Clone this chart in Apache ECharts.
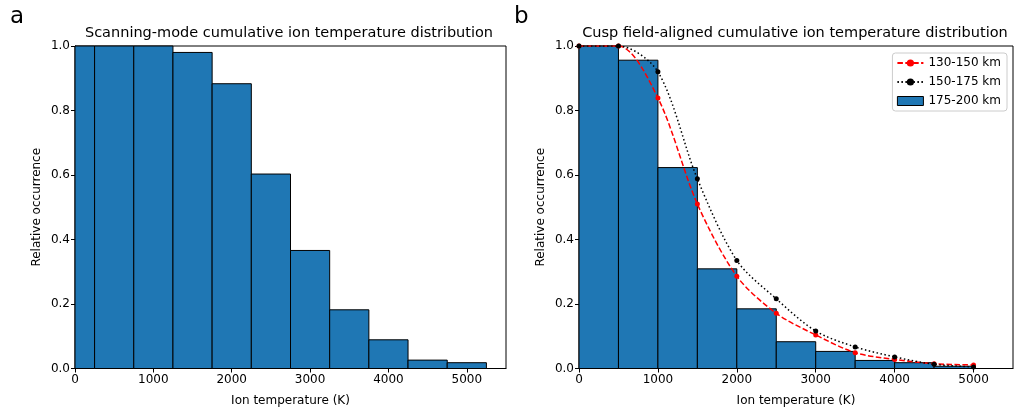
<!DOCTYPE html>
<html>
<head>
<meta charset="utf-8">
<script src="https://cdn.jsdelivr.net/npm/echarts@6/dist/echarts.min.js"></script>
<style>
html,body{margin:0;padding:0;background:#fff;}
#c{width:1017px;height:412px;}
</style>
</head>
<body>
<div id="c"></div>
<script>
// ---- data ----
const xTicks = [0, 1000, 2000, 3000, 4000, 5000];
const yTicks = [0, 0.2, 0.4, 0.6, 0.8, 1.0];
const binWidth = 500;

// panel a: scanning-mode histogram (bin centres, values)
const scanCenters = [0, 500, 1000, 1500, 2000, 2500, 3000, 3500, 4000, 4500, 5000];
const scanValues  = [1.0, 1.0, 1.0, 0.980, 0.883, 0.603, 0.366, 0.182, 0.089, 0.026, 0.018];

// panel b: 175-200 km histogram
const cuspCenters = [250, 750, 1250, 1750, 2250, 2750, 3250, 3750, 4250, 4750];
const cuspValues  = [1.0, 0.956, 0.623, 0.309, 0.185, 0.083, 0.053, 0.025, 0.018, 0.007];

// panel b: lines
const lineTemps = [0, 500, 1000, 1500, 2000, 2500, 3000, 3500, 4000, 4500, 5000];
const line130 = [1.0, 1.0, 0.839, 0.510, 0.286, 0.171, 0.104, 0.049, 0.028, 0.015, 0.011];
const line150 = [1.0, 1.0, 0.920, 0.588, 0.335, 0.216, 0.116, 0.067, 0.036, 0.013, 0.005];

const seriesNames = ['130-150 km', '150-175 km', '175-200 km'];
const titles = ['Scanning-mode cumulative ion temperature distribution',
                'Cusp field-aligned cumulative ion temperature distribution'];
const panelLabels = ['a', 'b'];
const xName = 'Ion temperature (K)';
const yName = 'Relative occurrence';

// ---- chart ----
const FONT = 'DejaVu Sans';
const BLUE = '#1f77b4';
const AX = 12;
const chart = echarts.init(document.getElementById('c'), null, {renderer: 'canvas'});

function renderBar(params, api) {
  const c = api.value(0), v = api.value(1);
  const p0 = api.coord([c - binWidth / 2, v]);
  const p1 = api.coord([c + binWidth / 2, 0]);
  const cs = params.coordSys;
  const r = echarts.graphic.clipRectByRect(
    {x: p0[0], y: p0[1], width: p1[0] - p0[0], height: p1[1] - p0[1]},
    {x: cs.x, y: cs.y, width: cs.width, height: cs.height});
  if (!r) return null;
  return {type: 'rect', shape: r, style: {fill: BLUE, stroke: '#000', lineWidth: 1}};
}

const grids = [
  {left: 75, top: 46, width: 431, height: 322.5},
  {left: 579, top: 46, width: 434, height: 322.5}
];

function xAxis(i) {
  return {
    type: 'value', gridIndex: i, min: 0, max: 5500,
    name: xName, nameLocation: 'middle', nameGap: 26,
    nameTextStyle: {fontFamily: FONT, fontSize: AX, color: '#000'},
    axisLine: {show: true, lineStyle: {color: '#000', width: 1}},
    axisTick: {show: true, length: 4, lineStyle: {color: '#000'}, customValues: xTicks},
    axisLabel: {fontFamily: FONT, fontSize: AX, color: '#000', margin: 5, customValues: xTicks,
                formatter: v => String(v)},
    splitLine: {show: false}
  };
}
function yAxis(i) {
  return {
    type: 'value', gridIndex: i, min: 0, max: 1,
    name: yName, nameLocation: 'middle', nameGap: 32, nameRotate: 90,
    nameTextStyle: {fontFamily: FONT, fontSize: AX, color: '#000'},
    axisLine: {show: true, lineStyle: {color: '#000', width: 1}},
    axisTick: {show: true, length: 4, lineStyle: {color: '#000'}, customValues: yTicks},
    axisLabel: {fontFamily: FONT, fontSize: AX, color: '#000', margin: 5, customValues: yTicks,
                formatter: v => v.toFixed(1)},
    splitLine: {show: false}
  };
}

const option = {
  backgroundColor: '#fff',
  animation: false,
  title: [
    {text: titles[0], left: 284, top: 21, textAlign: 'center',
     textStyle: {fontFamily: FONT, fontSize: 14.5, fontWeight: 'normal', color: '#000'}},
    {text: titles[1], left: 790, top: 21, textAlign: 'center',
     textStyle: {fontFamily: FONT, fontSize: 14.5, fontWeight: 'normal', color: '#000'}},
    {text: panelLabels[0], left: 5, top: 1,
     textStyle: {fontFamily: FONT, fontSize: 23, fontWeight: 'normal', color: '#000'}},
    {text: panelLabels[1], left: 509, top: 1,
     textStyle: {fontFamily: FONT, fontSize: 23, fontWeight: 'normal', color: '#000'}}
  ],
  grid: grids.map(g => Object.assign({show: true, borderColor: '#000', borderWidth: 1,
                                      backgroundColor: 'transparent'}, g)),
  xAxis: [xAxis(0), xAxis(1)],
  yAxis: [yAxis(0), yAxis(1)],
  legend: {
    orient: 'vertical', right: 10, top: 53,
    itemWidth: 26, itemHeight: 9, itemGap: 7,
    padding: [4, 6, 4, 4],
    borderColor: '#ccc', borderWidth: 1, borderRadius: 3, backgroundColor: 'rgba(255,255,255,0.8)',
    textStyle: {fontFamily: FONT, fontSize: AX, color: '#000'},
    data: [
      {name: seriesNames[0]},
      {name: seriesNames[1]},
      {name: seriesNames[2], icon: 'rect', itemStyle: {color: BLUE, borderColor: '#000', borderWidth: 1}}
    ]
  },
  series: [
    {
      type: 'custom', name: 'scan', xAxisIndex: 0, yAxisIndex: 0,
      renderItem: renderBar, encode: {x: 0, y: 1},
      data: scanCenters.map((c, i) => [c, scanValues[i]])
    },
    {
      type: 'custom', name: seriesNames[2], xAxisIndex: 1, yAxisIndex: 1,
      renderItem: renderBar, encode: {x: 0, y: 1},
      itemStyle: {color: BLUE},
      data: cuspCenters.map((c, i) => [c, cuspValues[i]])
    },
    {
      type: 'line', name: seriesNames[0], xAxisIndex: 1, yAxisIndex: 1,
      smooth: 0.3,
      symbol: 'circle', symbolSize: 5, showAllSymbol: true,
      itemStyle: {color: '#ff0000'},
      lineStyle: {color: '#ff0000', width: 1.5, type: [5.5, 2.4]},
      z: 3,
      data: lineTemps.map((t, i) => [t, line130[i]])
    },
    {
      type: 'line', name: seriesNames[1], xAxisIndex: 1, yAxisIndex: 1,
      smooth: 0.3,
      symbol: 'circle', symbolSize: 5, showAllSymbol: true,
      itemStyle: {color: '#000'},
      lineStyle: {color: '#000', width: 1.5, type: [1.5, 2.5]},
      z: 4,
      data: lineTemps.map((t, i) => [t, line150[i]])
    }
  ]
};
chart.setOption(option);
</script>
</body>
</html>
